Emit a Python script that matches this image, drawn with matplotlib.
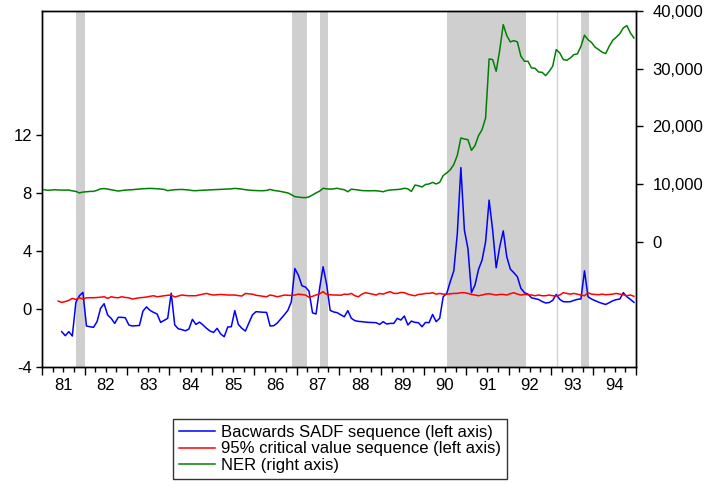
import numpy as np
import matplotlib
matplotlib.use("Agg")
import matplotlib.pyplot as plt
from matplotlib.ticker import FuncFormatter, FixedLocator

plt.rcParams['font.family'] = ['Liberation Sans', 'DejaVu Sans']

# ---- monthly data, Jan 1981 - Dec 1994 ----
start_year = 1981

# Backwards SADF sequence (starts Jun 1981)
bsadf_start = 5
bsadf = [
    -1.56, -1.84, -1.56, -1.86, 0.46, 0.92, 1.15,                                   # 1981
    -1.17, -1.22, -1.26, -0.87, 0.05, 0.37, -0.41, -0.64, -0.99, -0.57, -0.57, -0.60,  # 1982
    -1.10, -1.17, -1.15, -1.13, -0.14, 0.15, -0.09, -0.23, -0.34, -0.92, -0.78, -0.64,  # 1983
    1.10, -1.10, -1.36, -1.42, -1.50, -1.38, -0.71, -1.06, -0.90, -1.10, -1.33, -1.52,  # 1984
    -1.61, -1.33, -1.72, -1.91, -1.24, -1.22, -0.11, -1.06, -1.33, -1.52, -0.95, -0.40,  # 1985
    -0.18, -0.20, -0.22, -0.23, -1.17, -1.15, -0.97, -0.69, -0.40, -0.10, 0.50, 2.80,  # 1986
    2.34, 1.61, 1.52, 1.24, -0.26, -0.34, 1.42, 2.92, 1.70, -0.09, -0.20, -0.25,       # 1987
    -0.40, -0.53, -0.11, -0.64, -0.80, -0.85, -0.87, -0.90, -0.92, -0.93, -0.94, -1.06,  # 1988
    -0.87, -1.03, -0.99, -0.99, -0.64, -0.76, -0.48, -1.10, -0.83, -0.92, -0.94, -1.22,  # 1989
    -0.92, -0.94, -0.37, -0.87, -0.64, 0.85, 1.08, 1.89, 2.64, 5.22, 9.77, 5.45,       # 1990
    4.18, 1.13, 1.66, 2.74, 3.38, 4.64, 7.52, 5.45, 2.85, 4.30, 5.40, 3.61,            # 1991
    2.76, 2.51, 2.23, 1.43, 1.13, 1.03, 0.78, 0.72, 0.66, 0.52, 0.42, 0.45,            # 1992
    0.60, 1.01, 0.67, 0.51, 0.50, 0.51, 0.60, 0.67, 0.70, 2.64, 0.85, 0.69,            # 1993
    0.58, 0.48, 0.39, 0.32, 0.44, 0.57, 0.65, 0.69, 1.13, 0.85, 0.67, 0.46,            # 1994
]

# 95% critical value sequence (starts May 1981)
cv_start = 4
cv95 = [
    0.55, 0.46, 0.52, 0.60, 0.74, 0.66, 0.78, 0.69,                                   # 1981
    0.78, 0.78, 0.78, 0.80, 0.82, 0.85, 0.74, 0.85, 0.80, 0.78, 0.85, 0.80,            # 1982
    0.78, 0.69, 0.74, 0.78, 0.80, 0.83, 0.88, 0.92, 0.85, 0.88, 0.92, 0.95,            # 1983
    0.97, 0.83, 0.90, 0.97, 0.94, 0.92, 0.92, 0.92, 0.98, 1.03, 1.08, 1.01,            # 1984
    0.97, 0.99, 1.01, 0.99, 0.97, 0.97, 0.97, 0.93, 0.90, 1.08, 1.05, 1.03,            # 1985
    0.95, 0.92, 0.88, 0.85, 0.97, 0.92, 0.85, 0.90, 0.97, 0.95, 0.94, 0.97,            # 1986
    1.03, 1.00, 0.97, 0.81, 0.88, 0.97, 1.05, 1.20, 1.01, 0.99, 0.97, 0.97,            # 1987
    0.95, 1.03, 1.01, 1.08, 0.92, 0.85, 1.03, 1.13, 1.08, 1.03, 0.97, 1.08,            # 1988
    1.03, 1.13, 1.20, 1.08, 1.08, 1.15, 1.13, 1.03, 0.97, 0.92, 1.01, 1.03,            # 1989
    1.08, 1.08, 1.13, 1.03, 1.08, 1.03, 1.03, 1.05, 1.08, 1.08, 1.13, 1.13,            # 1990
    1.08, 1.01, 0.97, 0.92, 0.97, 1.03, 1.06, 1.01, 0.97, 1.01, 1.01, 0.97,            # 1991
    1.06, 1.13, 1.03, 0.97, 1.01, 0.99, 0.97, 0.92, 0.97, 0.92, 0.92, 0.97,            # 1992
    0.92, 0.90, 0.97, 1.13, 1.08, 1.03, 1.08, 1.03, 0.97, 0.92, 1.13, 1.03,            # 1993
    1.01, 0.99, 1.03, 0.99, 1.01, 1.03, 1.08, 1.03, 0.99, 0.92, 0.97, 0.88,            # 1994
]

# Nominal exchange rate (right axis)
ner_start = 0
ner = [
    9050, 8950, 8990, 9050, 9000, 8990, 8980, 8990, 8850, 8760, 8500, 8640,          # 1981
    8700, 8760, 8760, 8950, 9200, 9250, 9160, 9050, 8950, 8820, 8900, 8990,          # 1982
    9020, 9050, 9120, 9160, 9220, 9250, 9280, 9250, 9220, 9160, 9100, 8880,          # 1983
    8990, 9050, 9080, 9100, 9050, 9000, 8900, 8880, 8930, 8960, 8990, 9020,          # 1984
    9050, 9080, 9110, 9140, 9160, 9200, 9280, 9220, 9160, 9050, 8990, 8930,          # 1985
    8900, 8880, 8880, 8930, 9100, 8930, 8850, 8750, 8620, 8500, 8200, 7850,          # 1986
    7780, 7700, 7680, 7800, 8150, 8500, 8800, 9300, 9200, 9150, 9200, 9300,          # 1987
    9150, 9050, 8700, 9150, 9080, 9000, 8900, 8880, 8860, 8880, 8870, 8800,          # 1988
    8700, 8900, 9000, 9050, 9080, 9150, 9300, 9200, 8760, 9850, 9740, 9520,          # 1989
    9950, 10050, 10320, 10050, 10320, 11500, 11950, 12500, 13400, 15000, 17990, 17820,  # 1990
    17700, 15860, 16670, 18400, 19430, 21450, 31660, 31550, 29530, 33160, 37600, 35700,  # 1991
    34600, 34830, 34600, 32120, 31260, 31250, 30100, 30050, 29400, 29350, 28780, 29500,  # 1992
    30400, 33280, 32700, 31550, 31430, 31830, 32410, 32530, 33850, 35760, 35000, 34500,  # 1993
    33700, 33280, 32820, 32580, 33850, 34890, 35410, 36040, 37020, 37430, 36160, 35290,  # 1994
]

# bubble periods (decimal years)
shade_start = [1981.80, 1986.88, 1987.55, 1990.55, 1993.15, 1993.72]
shade_end = [1982.00, 1987.24, 1987.73, 1992.41, 1993.15, 1993.91]

year_labels = ["81", "82", "83", "84", "85", "86", "87", "88", "89", "90",
               "91", "92", "93", "94"]

labels = ["Bacwards SADF sequence (left axis)",
          "95% critical value sequence (left axis)",
          "NER (right axis)"]


def month_axis(first, n):
    k = np.arange(first, first + n)
    return start_year + (k + 0.5) / 12.0


W, H = 710, 496
fig = plt.figure(figsize=(W / 100, H / 100), dpi=100)
left, right, top, bottom = 42.3, 635.7, 10.7, 367.0
ax = fig.add_axes([left / W, 1 - bottom / H, (right - left) / W, (bottom - top) / H])
ax2 = ax.twinx()

shade_col = "#cfcfcf"
for s, e in zip(shade_start, shade_end):
    if e - s < 0.02:
        ax.axvline(s, color="#d2d2d2", lw=1.0, zorder=0)
    else:
        ax.axvspan(s, e, color=shade_col, lw=0, zorder=0)

l1, = ax.plot(month_axis(bsadf_start, len(bsadf)), bsadf, color="#0000ff", lw=1.1)
l2, = ax.plot(month_axis(cv_start, len(cv95)), cv95, color="#ff0000", lw=1.1)
l3, = ax2.plot(month_axis(ner_start, len(ner)), ner, color="#008000", lw=1.1)

ax.set_xlim(1981, 1995)
ax.set_ylim(-4, 20.6)
ax2.set_ylim(-21600, 40000)

ax.set_yticks([-4, 0, 4, 8, 12])
ax.set_yticklabels(["-4", "0", "4", "8", "12"])
ax2.set_yticks([0, 10000, 20000, 30000, 40000])
ax2.yaxis.set_major_formatter(FuncFormatter(lambda v, p: f"{int(v):,}"))

years = np.arange(1981, 1996)
ax.xaxis.set_major_locator(FixedLocator(years))
ax.xaxis.set_minor_locator(FixedLocator([y + q / 4 for y in years[:-1] for q in (1, 2, 3)]))
ax.tick_params(axis="x", which="major", direction="out", length=6, width=1, labelbottom=False)
ax.tick_params(axis="x", which="minor", direction="out", length=3.5, width=1)
ax.tick_params(axis="y", direction="out", length=4.5, width=1, labelsize=12, pad=3)
ax2.tick_params(axis="y", direction="out", length=5, width=1, labelsize=12, pad=7)

sec = ax.secondary_xaxis("bottom")
sec.set_xticks(years[:-1] + 0.5)
sec.set_xticklabels(year_labels)
sec.tick_params(length=0, labelsize=12, pad=8)
sec.spines["bottom"].set_visible(False)

for a in (ax, ax2):
    for sp in a.spines.values():
        sp.set_linewidth(1.0)
        sp.set_color("black")

leg = fig.legend([l1, l2, l3], labels, loc="upper left",
                 bbox_to_anchor=(172.7 / W, 1 - 419 / H), bbox_transform=fig.transFigure,
                 frameon=True, fancybox=False, edgecolor="black", fontsize=12,
                 handlelength=2.2, handletextpad=0.35, labelspacing=0.1,
                 borderpad=0.35, borderaxespad=0)
leg.get_frame().set_linewidth(1.0)

fig.savefig("out.png", dpi=100)
